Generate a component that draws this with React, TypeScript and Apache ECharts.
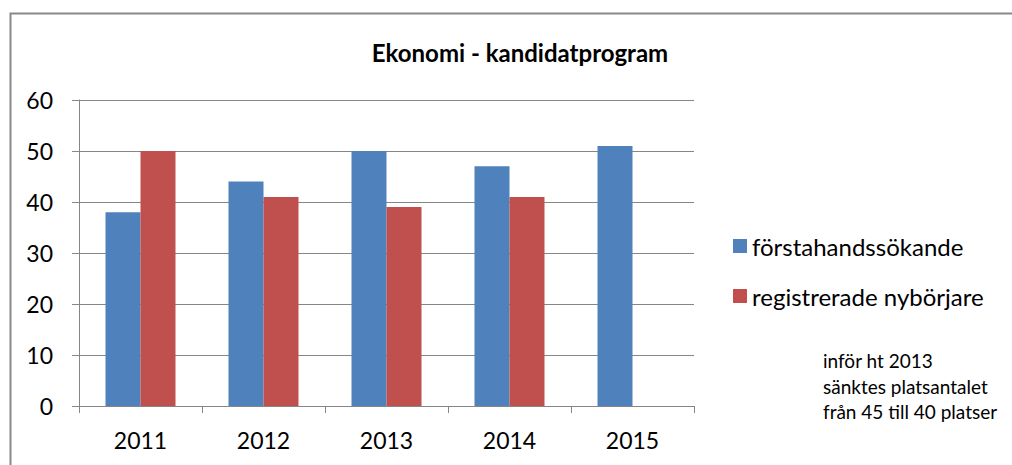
import React, { useEffect, useRef } from "react";
import * as echarts from "echarts";

const categories = ["2011", "2012", "2013", "2014", "2015"];
const forstahand = [38, 44, 50, 47, 51];
const registrerade: (number | null)[] = [50, 41, 39, 41, null];
const seriesNames = ["förstahandssökande", "registrerade nybörjare"];
const titleText = "Ekonomi - kandidatprogram";
const noteLines = ["inför ht 2013", "sänktes platsantalet", "från 45 till 40 platser"];

const FONT = "Lato, 'Open Sans', sans-serif";

export default function App() {
  const ref = useRef<HTMLDivElement>(null);
  useEffect(() => {
    document.body.style.margin = "0";
    const chart = echarts.init(ref.current!, null, { renderer: "svg" });
    chart.setOption({
      animation: false,
      backgroundColor: "#ffffff",
      textStyle: { fontFamily: FONT },
      title: {
        text: titleText,
        left: 515,
        top: 35,
        textAlign: "center",
        textStyle: { fontFamily: FONT, fontSize: 24, fontWeight: "bold", color: "#000" },
      },
      legend: {
        orient: "vertical",
        left: 733,
        top: 234,
        padding: 0,
        itemWidth: 14,
        itemHeight: 14,
        itemGap: 26,
        icon: "rect",
        textStyle: { fontFamily: FONT, fontSize: 24, color: "#000", padding: [0, 0, 0, 0] },
        data: seriesNames,
      },
      grid: { left: 79, right: 318, top: 100, bottom: 59, containLabel: false },
      xAxis: {
        type: "category",
        data: categories,
        axisLine: { lineStyle: { color: "#868686", width: 1 } },
        axisTick: { show: true, length: 7, lineStyle: { color: "#868686" } },
        axisLabel: { fontFamily: FONT, fontSize: 23, color: "#000", margin: 22 },
      },
      yAxis: {
        type: "value",
        min: 0,
        max: 60,
        interval: 10,
        axisLine: { show: true, lineStyle: { color: "#868686", width: 1 } },
        axisTick: { show: true, length: 7, lineStyle: { color: "#868686" } },
        axisLabel: { fontFamily: FONT, fontSize: 23, color: "#000", margin: 26 },
        splitLine: { show: true, lineStyle: { color: "#868686", width: 1 } },
      },
      series: [
        {
          name: seriesNames[0],
          type: "bar",
          data: forstahand,
          barWidth: 35,
          barGap: "0%",
          itemStyle: { color: "#4F81BD" },
        },
        {
          name: seriesNames[1],
          type: "bar",
          data: registrerade,
          barWidth: 35,
          barGap: "0%",
          itemStyle: { color: "#C0504D" },
        },
      ],
      graphic: [
        {
          type: "rect",
          shape: { x: 10.5, y: 13.5, width: 1030, height: 470 },
          style: { fill: "none", stroke: "#888888", lineWidth: 2 },
          silent: true,
        },
        {
          type: "text",
          left: 823,
          top: 348,
          style: {
            text: noteLines.join("\n"),
            font: `19px ${FONT}`,
            fill: "#000",
            lineHeight: 25.5,
          },
        },
      ],
    });
    return () => chart.dispose();
  }, []);
  return <div ref={ref} style={{ width: 1012, height: 465 }} />;
}
